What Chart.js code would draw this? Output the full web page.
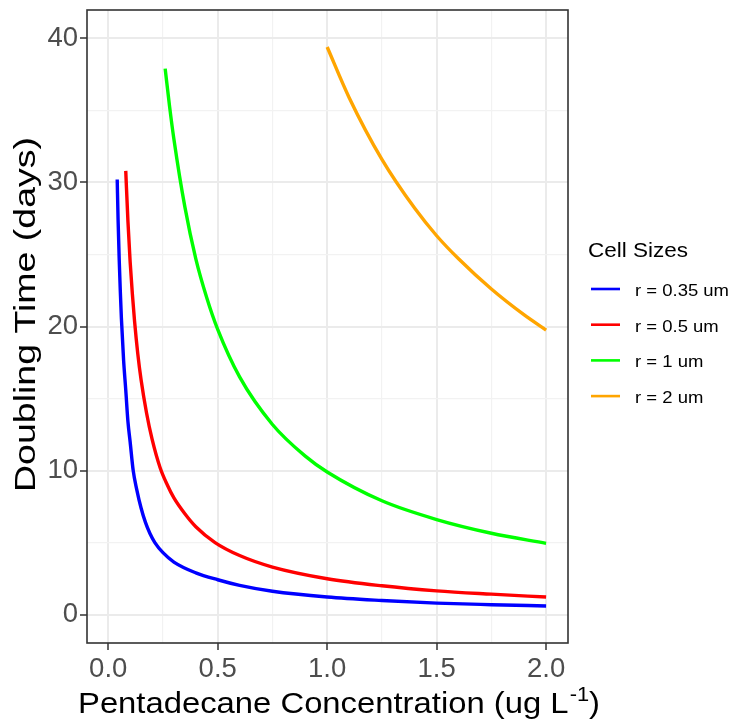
<!DOCTYPE html>
<html>
<head>
<meta charset="utf-8">
<script src="https://cdn.jsdelivr.net/npm/chart.js@4/dist/chart.umd.min.js"></script>
<style>
  html, body { margin: 0; padding: 0; background: #fff; }
  canvas { display: block; }
</style>
</head>
<body>
<canvas id="chart" width="731" height="719"></canvas>
<script>
// values
const seriesLabels = ['r = 0.35 um', 'r = 0.5 um', 'r = 1 um', 'r = 2 um'];
const seriesColors = ['#0000FF', '#FF0000', '#00FF00', '#FFA500'];

const concSmall = [0.041, 0.045, 0.05, 0.055, 0.06, 0.07, 0.08, 0.09, 0.1, 0.114, 0.13, 0.15, 0.17, 0.19, 0.213, 0.25, 0.3, 0.4, 0.5, 0.6, 0.75, 1.0, 1.25, 1.5, 1.75, 2.0];
const timeSmall = [30.2, 27.4, 24.7, 22.5, 20.6, 17.7, 15.6, 13.4, 12.0, 10.0, 8.7, 7.4, 6.4, 5.65, 5.0, 4.3, 3.65, 2.9, 2.42, 2.03, 1.62, 1.22, 0.98, 0.8, 0.69, 0.6];

const concHalf = [0.08, 0.09, 0.1, 0.11, 0.12, 0.135, 0.15, 0.175, 0.2, 0.237, 0.27, 0.3, 0.35, 0.4, 0.488, 0.6, 0.75, 1.0, 1.25, 1.5, 1.75, 2.0];
const timeHalf = [30.8, 27.3, 24.5, 22.3, 20.4, 18.1, 16.3, 14.0, 12.2, 10.2, 9.0, 8.1, 7.0, 6.1, 5.0, 4.1, 3.3, 2.49, 2.0, 1.65, 1.42, 1.22];

const concOne = [0.26, 0.28, 0.3, 0.35, 0.4, 0.45, 0.5, 0.6, 0.75, 0.9, 1.0, 1.25, 1.5, 1.75, 2.0];
const timeOne = [37.9, 35.3, 33.0, 28.3, 24.7, 22.0, 19.8, 16.5, 13.2, 11.0, 9.9, 7.9, 6.6, 5.65, 4.95];

const concTwo = [1.0, 1.1, 1.25, 1.4, 1.5, 1.6, 1.75, 1.9, 2.0];
const timeTwo = [39.4, 35.9, 31.6, 28.2, 26.3, 24.7, 22.6, 20.8, 19.75];

const xTicks = [0, 0.25, 0.5, 0.75, 1.0, 1.25, 1.5, 1.75, 2.0];
const yTicks = [0, 5, 10, 15, 20, 25, 30, 35, 40];

const FONT = '"Liberation Sans", Arial, Helvetica, sans-serif';

function toPoints(xs, ys) {
  return xs.map((x, i) => ({ x, y: ys[i] }));
}

const seriesData = [
  toPoints(concSmall, timeSmall),
  toPoints(concHalf, timeHalf),
  toPoints(concOne, timeOne),
  toPoints(concTwo, timeTwo)
];

const isMajorX = v => Math.abs(v * 2 - Math.round(v * 2)) < 1e-6;
const isMajorY = v => v % 10 === 0;

// draws text stretched horizontally to a given width
function fillStretched(ctx, text, x, y, width) {
  const natural = ctx.measureText(text).width;
  ctx.save();
  ctx.translate(x, y);
  ctx.scale(width / natural, 1);
  ctx.fillText(text, 0, 0);
  ctx.restore();
}

const decorations = {
  id: 'decorations',
  afterDatasetsDraw(chart) {
    const { ctx, chartArea: a } = chart;
    ctx.save();

    // panel border
    ctx.strokeStyle = '#333333';
    ctx.lineWidth = 1.6;
    ctx.strokeRect(a.left, a.top, a.right - a.left, a.bottom - a.top);

    ctx.fillStyle = '#000';
    ctx.textBaseline = 'alphabetic';
    ctx.textAlign = 'left';

    // y axis title
    ctx.save();
    ctx.translate(35, 314.5);
    ctx.rotate(-Math.PI / 2);
    ctx.font = `30px ${FONT}`;
    fillStretched(ctx, 'Doubling Time (days)', -177.5, 0, 355);
    ctx.restore();

    // x axis title with superscript
    const main = 'Pentadecane Concentration (ug L';
    ctx.font = `30px ${FONT}`;
    const w1 = ctx.measureText(main).width;
    const w3 = ctx.measureText(')').width;
    ctx.font = `20px ${FONT}`;
    const w2 = ctx.measureText('-1').width + 1;
    const s = 522 / (w1 + w2 + w3);
    ctx.save();
    ctx.translate(78, 713);
    ctx.scale(s, 1);
    ctx.font = `30px ${FONT}`;
    ctx.fillText(main, 0, 0);
    ctx.fillText(')', w1 + w2, 0);
    ctx.font = `20px ${FONT}`;
    ctx.fillText('-1', w1 + 1, -12);
    ctx.restore();

    // legend
    ctx.font = `21px ${FONT}`;
    fillStretched(ctx, 'Cell Sizes', 588, 256.5, 100);
    ctx.font = `16.5px ${FONT}`;
    const k = 94 / ctx.measureText(seriesLabels[0]).width;
    seriesLabels.forEach((label, i) => {
      const yc = 289 + i * 35.7;
      ctx.fillStyle = seriesColors[i];
      ctx.fillRect(591, yc - 1.3, 29, 2.6);
      ctx.fillStyle = '#000';
      fillStretched(ctx, label, 635, yc + 7, ctx.measureText(label).width * k);
    });

    ctx.restore();
  }
};

new Chart(document.getElementById('chart'), {
  type: 'scatter',
  data: {
    datasets: seriesData.map((pts, i) => ({
      label: seriesLabels[i],
      data: pts,
      showLine: true,
      borderColor: seriesColors[i],
      backgroundColor: seriesColors[i],
      borderWidth: 3.4,
      pointRadius: 0,
      cubicInterpolationMode: 'monotone'
    }))
  },
  options: {
    responsive: false,
    animation: false,
    layout: { padding: { left: 0, top: 10, right: 163, bottom: 0 } },
    plugins: {
      legend: { display: false },
      tooltip: { enabled: false }
    },
    scales: {
      x: {
        type: 'linear',
        min: -0.097,
        max: 2.1,
        afterBuildTicks: sc => { sc.ticks = xTicks.map(v => ({ value: v })); },
        afterFit: sc => { sc.height = 76; sc.paddingLeft = 0; sc.paddingRight = 0; },
        border: { display: false },
        grid: {
          color: c => isMajorX(c.tick.value) ? '#EBEBEB' : '#F2F2F2',
          lineWidth: c => isMajorX(c.tick.value) ? 2 : 1.2,
          tickColor: c => isMajorX(c.tick.value) ? '#333333' : 'rgba(0,0,0,0)',
          tickWidth: 1.5,
          tickLength: 7
        },
        ticks: {
          autoSkip: false,
          maxRotation: 0,
          padding: 3,
          color: '#4D4D4D',
          font: { family: FONT, size: 27.5 },
          callback: v => isMajorX(v) ? v.toFixed(1) : ''
        }
      },
      y: {
        min: -1.97,
        max: 41.97,
        afterBuildTicks: sc => { sc.ticks = yTicks.map(v => ({ value: v })); },
        afterFit: sc => { sc.width = 87; sc.paddingTop = 0; sc.paddingBottom = 0; },
        border: { display: false },
        grid: {
          color: c => isMajorY(c.tick.value) ? '#EBEBEB' : '#F2F2F2',
          lineWidth: c => isMajorY(c.tick.value) ? 2 : 1.2,
          tickColor: c => isMajorY(c.tick.value) ? '#333333' : 'rgba(0,0,0,0)',
          tickWidth: 1.5,
          tickLength: 7
        },
        ticks: {
          autoSkip: false,
          padding: 2,
          color: '#4D4D4D',
          font: { family: FONT, size: 27.5 },
          callback: v => isMajorY(v) ? String(v) : ''
        }
      }
    }
  },
  plugins: [decorations]
});
</script>
</body>
</html>
